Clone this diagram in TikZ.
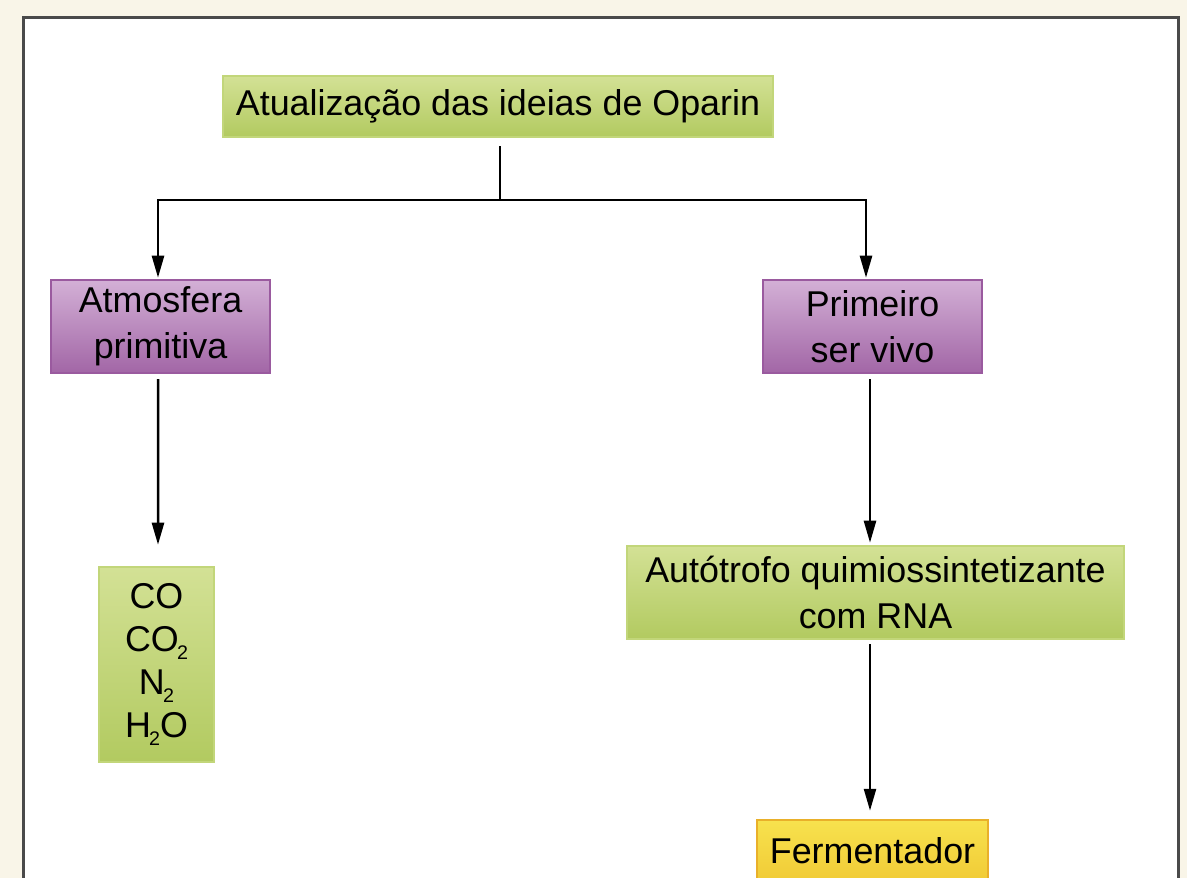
\documentclass[tikz,border=0pt]{standalone}
\usepackage{fontspec}
\setmainfont{Liberation Sans}
\usetikzlibrary{arrows.meta}
\definecolor{bgcream}{HTML}{F9F5E8}
\definecolor{framegray}{HTML}{4A4A4A}
\definecolor{gtop}{HTML}{D3E195}
\definecolor{gbot}{HTML}{B2CA60}
\definecolor{gline}{HTML}{C2D67A}
\definecolor{ptop}{HTML}{D3B0D6}
\definecolor{pbot}{HTML}{A266A6}
\definecolor{pline}{HTML}{9A5A9F}
\definecolor{ytop}{HTML}{F7E24E}
\definecolor{ybot}{HTML}{F1CB36}
\definecolor{yline}{HTML}{E9B02A}
\newcommand\chemsub[1]{\kern-0.05em\raisebox{-0.45ex}{\fontsize{14}{14}\selectfont #1}}
\tikzset{
  box/.style={rectangle, inner sep=0pt, align=center, line width=2.5*0.025cm,
    font=\fontsize{25.5}{33}\selectfont},
  greenbox/.style={box, draw=gline, top color=gtop, bottom color=gbot},
  purplebox/.style={box, draw=pline, top color=ptop, bottom color=pbot},
  yellowbox/.style={box, draw=yline, top color=ytop, bottom color=ybot},
  conn/.style={line width=2.5*0.025cm, black},
  arr/.style={conn, -{Triangle[length=0.55cm, width=0.3cm]}, shorten >=1*0.025cm},
}
\begin{document}
\begin{tikzpicture}[x=0.025cm, y=-0.025cm]
\useasboundingbox (0,0) rectangle (1187,878);
\fill[bgcream] (0,0) rectangle (1187,878);
\begin{scope}
\clip (0,0) rectangle (1187,878);
\draw[framegray, fill=white, line width=3*0.025cm] (23,18) rectangle (1178,900);
\end{scope}
\node[greenbox, minimum width=550*0.025cm, minimum height=61*0.025cm] (top) at (498,106.5) {Atualização das ideias de Oparin};
\node[purplebox, minimum width=219*0.025cm, minimum height=93*0.025cm] (atm) at (160.5,326.5) {Atmosfera\\primitiva};
\node[purplebox, minimum width=219*0.025cm, minimum height=93*0.025cm] (ser) at (872.5,326.5) {Primeiro\\ser vivo};
\node[greenbox, minimum width=115*0.025cm, minimum height=195*0.025cm, font=\fontsize{25.5}{30.5}\selectfont] (gas) at (156.5,664.5) {CO\\CO\chemsub{2}\\N\chemsub{2}\\H\chemsub{2}O};
\node[greenbox, minimum width=497*0.025cm, minimum height=93*0.025cm] (auto) at (875.5,592.5) {Autótrofo quimiossintetizante\\com RNA};
\clip (0,0) rectangle (1187,878);
\node[yellowbox, minimum width=231*0.025cm, minimum height=61*0.025cm] (ferm) at (872.5,850.5) {Fermentador};
\coordinate (split) at (500,200);
\draw[conn, shorten >=8*0.025cm] (split) -- (split |- top.south);
\draw[arr] (split) -| ([xshift=-2.5*0.025cm]atm.north);
\draw[arr] (split) -| ([xshift=-6.5*0.025cm]ser.north);
\draw[arr, shorten <=5*0.025cm, shorten >=21*0.025cm] ([xshift=-2.5*0.025cm]atm.south) -- ([xshift=1.5*0.025cm]gas.north);
\draw[arr, shorten <=5*0.025cm, shorten >=2*0.025cm] ([xshift=-2.5*0.025cm]ser.south) -- ([xshift=-5.5*0.025cm]auto.north);
\draw[arr, shorten <=4*0.025cm, shorten >=8*0.025cm] ([xshift=-5.5*0.025cm]auto.south) -- ([xshift=-2.5*0.025cm]ferm.north);
\end{tikzpicture}
\end{document}
